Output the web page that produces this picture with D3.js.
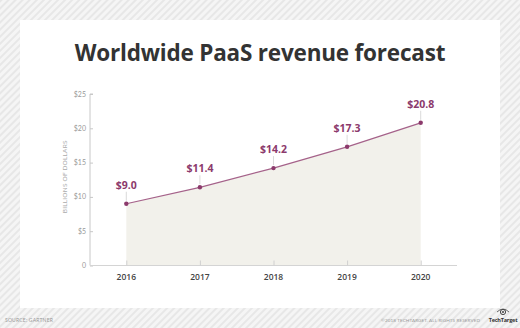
<!DOCTYPE html>
<html>
<head>
<meta charset="utf-8">
<script src="https://cdn.jsdelivr.net/npm/d3@7"></script>
<style>
  html, body { margin: 0; padding: 0; background: #f3f3f3; }
  svg { display: block; }
</style>
</head>
<body>
<div id="chart"></div>
<script>
// Worldwide PaaS revenue, billions of US dollars
const years = ["2016", "2017", "2018", "2019", "2020"];
const revenue = [9.0, 11.4, 14.2, 17.3, 20.8];
const yTicks = [0, 5, 10, 15, 20, 25];
const title = "Worldwide PaaS revenue forecast";
const yLabel = "BILLIONS OF DOLLARS";
const source = "SOURCE: GARTNER";
const copyright = "\u00A92018 TECHTARGET. ALL RIGHTS RESERVED";

const W = 520, H = 328;
const svg = d3.select("#chart").append("svg").attr("width", W).attr("height", H);

// striped backdrop
const defs = svg.append("defs");
const pat = defs.append("pattern").attr("id", "stripes")
  .attr("patternUnits", "userSpaceOnUse").attr("width", 5).attr("height", 5)
  .attr("patternTransform", "rotate(-45)");
pat.append("rect").attr("width", 5).attr("height", 5).attr("fill", "#f5f5f5");
pat.append("rect").attr("width", 5).attr("height", 2).attr("fill", "#e7e7e7");
svg.append("rect").attr("width", W).attr("height", H).attr("fill", "url(#stripes)");

// white card
svg.append("rect").attr("x", 20).attr("y", 20).attr("width", 480).attr("height", 288).attr("fill", "#fff");

svg.append("text").attr("x", 260).attr("y", 61).attr("text-anchor", "middle")
  .attr("font-family", "'Open Sans', sans-serif").attr("font-weight", 700)
  .attr("font-size", 22.5).attr("fill", "#333").attr("letter-spacing", -0.2)
  .text(title);

const x = d3.scalePoint().domain(years).range([126.3, 420.7]);
const y = d3.scaleLinear().domain([0, 25]).range([265.5, 94]);
const pts = years.map((yr, i) => ({ yr, v: revenue[i] }));

// area under the series
svg.append("path").datum(pts)
  .attr("fill", "#f2f1eb")
  .attr("d", d3.area().x(d => x(d.yr)).y0(y(0)).y1(d => y(d.v)));

// y axis
const yAxis = svg.append("g").attr("transform", `translate(90,0)`)
  .call(d3.axisRight(y).tickValues(yTicks).tickSize(3).tickFormat(() => ""));
yAxis.select(".domain").attr("stroke", "#c8c8c8").attr("d", `M3,${y(25)}H0V${y(0)}`);
yAxis.selectAll(".tick line").attr("stroke", "#c8c8c8");
svg.append("g").selectAll("text").data(yTicks).join("text")
  .attr("x", 86).attr("y", d => y(d) + 2.5).attr("text-anchor", "end")
  .attr("font-family", "Lato, sans-serif").attr("font-size", 7).attr("fill", "#999")
  .text(d => d === 0 ? "0" : "$" + d);

svg.append("text")
  .attr("transform", `translate(67,${(y(0) + y(25)) / 2 - 3}) rotate(-90)`)
  .attr("text-anchor", "middle").attr("font-family", "Lato, sans-serif")
  .attr("font-size", 6.5).attr("fill", "#aaa").attr("letter-spacing", 0.2)
  .text(yLabel);

// x axis
const xAxis = svg.append("g").attr("transform", `translate(0,${y(0)})`)
  .call(d3.axisTop(x).tickSize(5).tickFormat(""));
xAxis.select(".domain").attr("stroke", "#d4d4d4").attr("stroke-width", 1.2)
  .attr("d", `M90,0H457`);
xAxis.selectAll(".tick line").attr("stroke", "#d0d0d0");
svg.append("g").selectAll("text").data(years).join("text")
  .attr("x", d => x(d)).attr("y", 279.5).attr("text-anchor", "middle")
  .attr("font-family", "'Open Sans', sans-serif").attr("font-weight", 600)
  .attr("font-size", 8.5).attr("fill", "#444")
  .text(d => d);

// line
svg.append("path").datum(pts).attr("fill", "none")
  .attr("stroke", "#a5628a").attr("stroke-width", 1.2)
  .attr("d", d3.line().x(d => x(d.yr)).y(d => y(d.v)));

// leader lines from labels to points
svg.append("g").selectAll("line").data(pts).join("line")
  .attr("x1", d => x(d.yr)).attr("x2", d => x(d.yr))
  .attr("y1", d => y(d.v) - 12).attr("y2", d => y(d.v) - 3)
  .attr("stroke", "#d0d0d0").attr("stroke-width", 0.8);

svg.append("g").selectAll("circle").data(pts).join("circle")
  .attr("cx", d => x(d.yr)).attr("cy", d => y(d.v)).attr("r", 2.2)
  .attr("fill", "#8c3a6c");

svg.append("g").selectAll("text").data(pts).join("text")
  .attr("x", d => x(d.yr)).attr("y", d => y(d.v) - 15).attr("text-anchor", "middle")
  .attr("font-family", "'Open Sans', sans-serif").attr("font-weight", 700)
  .attr("font-size", 10.5).attr("fill", "#8c3a6c")
  .text(d => "$" + d.v.toFixed(1));

// footer
svg.append("text").attr("x", 5).attr("y", 322)
  .attr("font-family", "Lato, sans-serif").attr("font-size", 5).attr("fill", "#999")
  .attr("letter-spacing", 0.2).text(source);
svg.append("text").attr("x", 480).attr("y", 322).attr("text-anchor", "end")
  .attr("font-family", "Lato, sans-serif").attr("font-size", 4.6).attr("fill", "#999")
  .attr("letter-spacing", 0.1).text(copyright);

// TechTarget mark
const logo = svg.append("g").attr("transform", "translate(503,314)");
logo.append("circle").attr("cx", 0).attr("cy", -2).attr("r", 2.6)
  .attr("fill", "none").attr("stroke", "#444").attr("stroke-width", 1);
logo.append("circle").attr("cx", 0).attr("cy", -2).attr("r", 1).attr("fill", "#444");
logo.append("path").attr("d", "M-6,-2 Q0,-8 6,-2").attr("fill", "none")
  .attr("stroke", "#444").attr("stroke-width", 0.8);
logo.append("text").attr("x", 0).attr("y", 8).attr("text-anchor", "middle")
  .attr("font-family", "'Open Sans', sans-serif").attr("font-weight", 700)
  .attr("font-size", 5.5).attr("fill", "#333").attr("letter-spacing", -0.2)
  .text("TechTarget");
</script>
</body>
</html>
